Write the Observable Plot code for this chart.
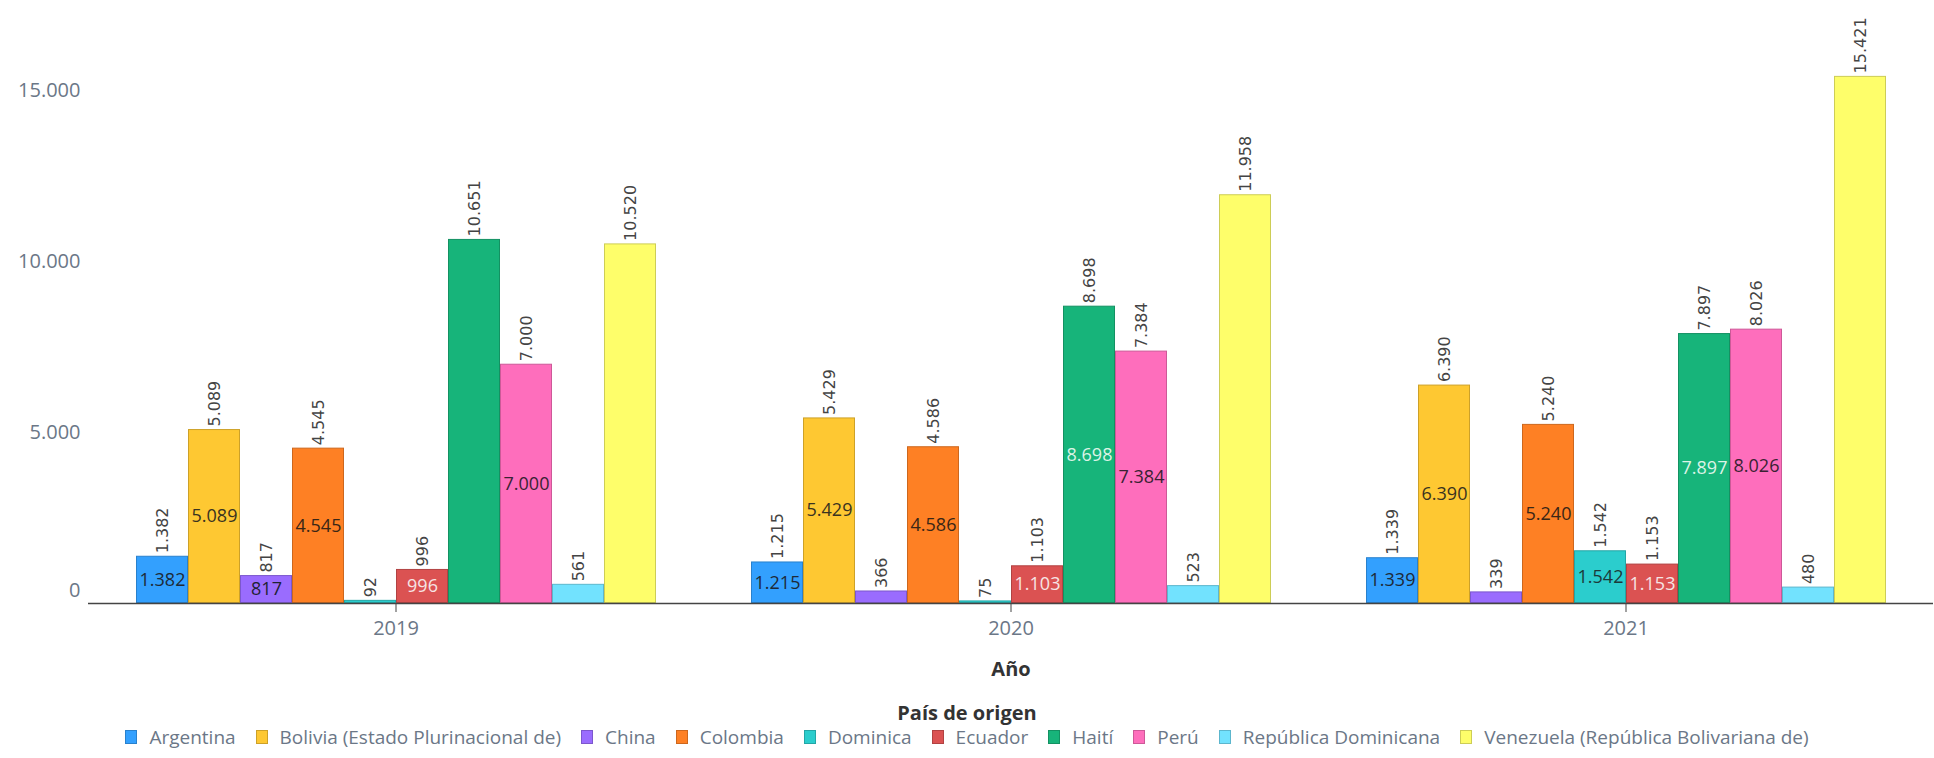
<!DOCTYPE html>
<html>
<head>
<meta charset="utf-8">
<script src="https://cdn.jsdelivr.net/npm/d3@7"></script>
<script src="https://cdn.jsdelivr.net/npm/@observablehq/plot@0.6"></script>
<style>
  html, body { margin: 0; padding: 0; background: #fff; }
  #chart { width: 1934px; }
  g[aria-label="fx-axis label"] text { font-weight: 700; fill: #333; }
  #legend-title { text-align: center; font-family: "Open Sans", sans-serif; font-weight: 700; font-size: 20px; color: #333; line-height: 24px; margin-top: 11px; }
  #legend { display: flex; justify-content: center; align-items: center; gap: 20px; font-family: "Open Sans", sans-serif; font-size: 19px; color: #6b7787; line-height: 24px; }
  .item { display: flex; align-items: center; white-space: nowrap; }
  .sw { width: 10px; height: 12px; border: 1px solid; margin-right: 12px; }
</style>
</head>
<body>
<div id="chart"></div>
<div id="legend-title">País de origen</div>
<div id="legend"></div>
<script>
const years = ["2019", "2020", "2021"];
const countries = ["Argentina", "Bolivia (Estado Plurinacional de)", "China", "Colombia", "Dominica", "Ecuador", "Haití", "Perú", "República Dominicana", "Venezuela (República Bolivariana de)"];
const values2019 = [1382, 5089, 817, 4545, 92, 996, 10651, 7000, 561, 10520];
const values2020 = [1215, 5429, 366, 4586, 75, 1103, 8698, 7384, 523, 11958];
const values2021 = [1339, 6390, 339, 5240, 1542, 1153, 7897, 8026, 480, 15421];
const yTicks = [0, 5000, 10000, 15000];
const colors = ["#33a0fe", "#fec832", "#9a6cfe", "#fe8024", "#2bcdcd", "#db5252", "#17b47a", "#fe6ebc", "#72e2fe", "#fefe6a"];
const insideText = ["#1e2a38", "#3a3320", "#1e2233", "#3a2616", "#1c3a3a", "#f6e4e4", "#dcf3e6", "#3a2233", "#1e2a38", "#3a3a20"];

const seriesByYear = [values2019, values2020, values2021];
const data = [];
years.forEach((yr, i) => countries.forEach((c, j) => data.push({year: yr, country: c, value: seriesByYear[i][j], ci: j})));

const locale = d3.formatLocale({decimal: ",", thousands: ".", grouping: [3], currency: ["", "€"]});
const fmt = locale.format(",d");

const chart = Plot.plot({
  width: 1934,
  height: 690,
  marginLeft: 87,
  marginRight: 0,
  marginTop: 39,
  marginBottom: 87,
  style: {fontFamily: "Open Sans, sans-serif", fontSize: "20px", color: "#6b7787", overflow: "visible"},
  fx: {domain: years, padding: 0},
  x: {domain: countries, paddingInner: 0, paddingOuter: 0.887, axis: null},
  y: {domain: [0, 16500]},
  color: {type: "identity"},
  marks: [
    Plot.barY(data, {fx: "year", x: "country", y: "value", fill: d => colors[d.ci], stroke: d => d3.color(colors[d.ci]).darker(0.6).formatHex(), strokeWidth: 1, inset: 0.5}),
    Plot.ruleY([0], {stroke: "#444", strokeWidth: 1.5}),
    Plot.text(data, {fx: "year", x: "country", y: "value", text: d => fmt(d.value), rotate: -90, textAnchor: "start", lineAnchor: "middle", dy: -3, fontFamily: "DejaVu Sans", fontSize: 16, fill: "#444"}),
    Plot.text(data.filter(d => d.value >= 800 && d.value < 10000), {fx: "year", x: "country", y: d => d.value / 2, text: d => fmt(d.value), fontFamily: "Open Sans, sans-serif", fontSize: 18, fill: d => insideText[d.ci]}),
    Plot.axisY({ticks: yTicks.filter(t => t > 0), tickSize: 0, tickPadding: 8, tickFormat: fmt, label: null}),
    Plot.axisY({ticks: yTicks.filter(t => t === 0), tickSize: 0, tickPadding: 8, tickFormat: fmt, label: null, dy: -13}),
    Plot.axisFx({anchor: "bottom", tickSize: 9, tickPadding: 8, stroke: "#444", label: "Año", labelAnchor: "center", labelOffset: 72})
  ]
});
document.getElementById("chart").appendChild(chart);

const legend = document.getElementById("legend");
countries.forEach((c, j) => {
  const it = document.createElement("div");
  it.className = "item";
  const sw = document.createElement("span");
  sw.className = "sw";
  sw.style.background = colors[j];
  sw.style.borderColor = d3.color(colors[j]).darker(0.6).formatHex();
  const t = document.createElement("span");
  t.textContent = c;
  it.appendChild(sw);
  it.appendChild(t);
  legend.appendChild(it);
});
</script>
</body>
</html>
